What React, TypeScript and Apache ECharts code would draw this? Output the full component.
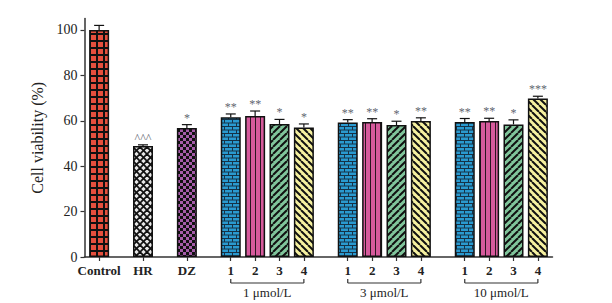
import React, { useEffect, useRef } from "react";
import * as echarts from "echarts";

// ---- data ----
const categories = ["Control", "HR", "DZ", "1", "2", "3", "4", "1", "2", "3", "4", "1", "2", "3", "4"];
const clusterOf = [0, 1, 2, 3, 3, 3, 3, 4, 4, 4, 4, 5, 5, 5, 5];
const values = [100, 48.9, 56.8, 61.5, 62.1, 58.6, 57.0, 59.2, 59.5, 58.1, 59.9, 59.5, 59.9, 58.4, 69.8];
const errors = [2.0, 0.5, 1.5, 1.5, 2.2, 2.0, 1.6, 1.3, 1.4, 1.7, 1.4, 1.5, 1.2, 2.0, 1.0];
const marks = ["", "^^^", "*", "**", "**", "*", "*", "**", "**", "*", "**", "**", "**", "*", "***"];
const patternKind = ["grid", "cross", "checker", "brick", "vstripe", "diagF", "diagB", "brick", "vstripe", "diagF", "diagB", "brick", "vstripe", "diagF", "diagB"];
const groupNames = ["1 μmol/L", "3 μmol/L", "10 μmol/L"];
const groupCluster = [3, 4, 5];
const yTicks = [0, 20, 40, 60, 80, 100];

const GAP = 0.8;
const positions = categories.map((_, i) => i + clusterOf[i] * GAP);

const RED = "#e54f3d";
const LIGHT = "#e8e8e8";
const PURPLE = "#a65ca9";
const BLUE = "#2a9ad0";
const PINK = "#d65a9c";
const GREEN = "#80c59b";
const YELLOW = "#f6f1a0";
const MARK = "#5f6670";

function mk(w: number, h: number, bg: string, draw: (g: CanvasRenderingContext2D) => void) {
  const c = document.createElement("canvas");
  c.width = w;
  c.height = h;
  const g = c.getContext("2d") as CanvasRenderingContext2D;
  g.fillStyle = bg;
  g.fillRect(0, 0, w, h);
  g.strokeStyle = "#111";
  g.fillStyle = "#111";
  draw(g);
  return { image: c, repeat: "repeat", imageWidth: w, imageHeight: h };
}

function line(g: CanvasRenderingContext2D, x1: number, y1: number, x2: number, y2: number) {
  g.beginPath();
  g.moveTo(x1, y1);
  g.lineTo(x2, y2);
  g.stroke();
}

function makePatterns() {
  return {
    grid: mk(7, 7, "#111", (g) => {
      g.fillStyle = RED;
      g.fillRect(0, 0, 5, 5);
    }),
    cross: mk(7, 7, LIGHT, (g) => {
      g.lineWidth = 1.8;
      for (const k of [-7, 0, 7]) {
        line(g, k, 0, k + 7, 7);
        line(g, k + 7, 0, k, 7);
      }
    }),
    checker: mk(6, 6, PURPLE, (g) => {
      g.fillRect(0, 0, 3, 3);
      g.fillRect(3, 3, 3, 3);
    }),
    brick: mk(8, 7, BLUE, (g) => {
      g.strokeStyle = "#163247";
      g.lineWidth = 1;
      line(g, 0, 0.5, 8, 0.5);
      line(g, 0, 4, 8, 4);
      line(g, 0.5, 0, 0.5, 4);
      line(g, 4.5, 4, 4.5, 7);
    }),
    vstripe: mk(5, 2, PINK, (g) => {
      g.fillStyle = "#2a1520";
      g.fillRect(0, 0, 1, 2);
    }),
    diagF: mk(7, 7, GREEN, (g) => {
      g.lineWidth = 2;
      for (const k of [-7, 0, 7]) line(g, k, 7, k + 7, 0);
    }),
    diagB: mk(7, 7, YELLOW, (g) => {
      g.lineWidth = 2;
      for (const k of [-7, 0, 7]) line(g, k, 0, k + 7, 7);
    }),
  } as Record<string, any>;
}

const FONT = '"Liberation Serif", "Times New Roman", serif';

export default function App() {
  const ref = useRef<HTMLDivElement>(null);
  useEffect(() => {
    if (!ref.current) return;
    const chart = echarts.init(ref.current, undefined, { renderer: "svg" });
    const pats = makePatterns();

    const barData = values.map((v, i) => ({
      value: [positions[i], v],
      itemStyle: { color: pats[patternKind[i]] },
    }));
    const errData = values.map((v, i) => [positions[i], v, errors[i], i]);
    const groupData = groupCluster.map((c, gi) => {
      const idx = clusterOf.map((cl, i) => (cl === c ? i : -1)).filter((i) => i >= 0);
      return [positions[idx[0]], 0, positions[idx[idx.length - 1]], gi];
    });

    const axisColor = "#333";
    const option: any = {
      animation: false,
      textStyle: { fontFamily: FONT },
      grid: { left: 84.5, right: 59.5, top: 18.6, bottom: 46 },
      xAxis: {
        type: "value",
        min: -0.6,
        max: 18.6,
        axisLine: { show: true, onZero: false, lineStyle: { color: axisColor, width: 1.5 } },
        axisTick: { show: true, customValues: positions, length: 4, lineStyle: { color: axisColor, width: 1.2 } },
        axisLabel: {
          customValues: positions,
          formatter: (v: number) => {
            const i = positions.findIndex((p) => Math.abs(p - v) < 1e-6);
            return i >= 0 ? categories[i] : "";
          },
          fontWeight: "bold",
          fontSize: 13,
          fontFamily: FONT,
          color: "#222",
          margin: 7,
        },
        splitLine: { show: false },
      },
      yAxis: {
        type: "value",
        min: 0,
        max: 105,
        interval: 20,
        name: "Cell viability (%)",
        nameLocation: "middle",
        nameGap: 31,
        nameTextStyle: { fontSize: 16, color: "#222", fontFamily: FONT },
        axisLine: { show: true, onZero: false, lineStyle: { color: axisColor, width: 1.5 } },
        axisTick: { show: true, length: 4, customValues: yTicks, lineStyle: { color: axisColor, width: 1.2 } },
        axisLabel: { customValues: yTicks, fontSize: 14, color: "#222", margin: 7, fontFamily: FONT },
        splitLine: { show: false },
      },
      series: [
        {
          type: "bar",
          data: barData,
          barWidth: 20,
          itemStyle: { borderColor: "#111", borderWidth: 1.5 },
          silent: true,
        },
        {
          type: "custom",
          data: errData,
          encode: { x: 0, y: 1 },
          z: 5,
          silent: true,
          itemStyle: { color: MARK },
          renderItem: (params: any, api: any) => {
            const x = api.value(0);
            const y = api.value(1);
            const e = api.value(2);
            const i = api.value(3);
            const p = api.coord([x, y]);
            const q = api.coord([x, y + e]);
            const st = { stroke: "#111", lineWidth: 1.2 };
            return {
              type: "group",
              children: [
                { type: "line", shape: { x1: p[0], y1: p[1], x2: q[0], y2: q[1] }, style: st },
                { type: "line", shape: { x1: q[0] - 5, y1: q[1], x2: q[0] + 5, y2: q[1] }, style: st },
                {
                  type: "text",
                  x: q[0],
                  y: q[1] - 1,
                  style: {
                    text: marks[i],
                    fill: MARK,
                    fontSize: 12,
                    fontFamily: FONT,
                    align: "center",
                    verticalAlign: "bottom",
                  },
                },
              ],
            };
          },
        },
        {
          type: "custom",
          data: groupData,
          encode: { x: [0, 2], y: 1 },
          z: 5,
          silent: true,
          clip: false,
          itemStyle: { color: "#222" },
          renderItem: (params: any, api: any) => {
            const a = api.coord([api.value(0), 0]);
            const b = api.coord([api.value(2), 0]);
            const gi = api.value(3);
            const y0 = a[1];
            const st = { stroke: "#333", lineWidth: 1.2 };
            return {
              type: "group",
              children: [
                { type: "line", shape: { x1: a[0], y1: y0 + 26, x2: b[0], y2: y0 + 26 }, style: st },
                { type: "line", shape: { x1: a[0], y1: y0 + 22, x2: a[0], y2: y0 + 26 }, style: st },
                { type: "line", shape: { x1: b[0], y1: y0 + 22, x2: b[0], y2: y0 + 26 }, style: st },
                {
                  type: "text",
                  x: (a[0] + b[0]) / 2,
                  y: y0 + 35.5,
                  style: {
                    text: groupNames[gi],
                    fill: "#222",
                    fontSize: 13,
                    fontFamily: FONT,
                    align: "center",
                    verticalAlign: "middle",
                  },
                },
              ],
            };
          },
        },
      ],
    };
    chart.setOption(option);
    return () => chart.dispose();
  }, []);
  return (
    <div
      ref={ref}
      style={{ position: "absolute", left: 0, top: 0, width: 612, height: 303, background: "#fff" }}
    />
  );
}
